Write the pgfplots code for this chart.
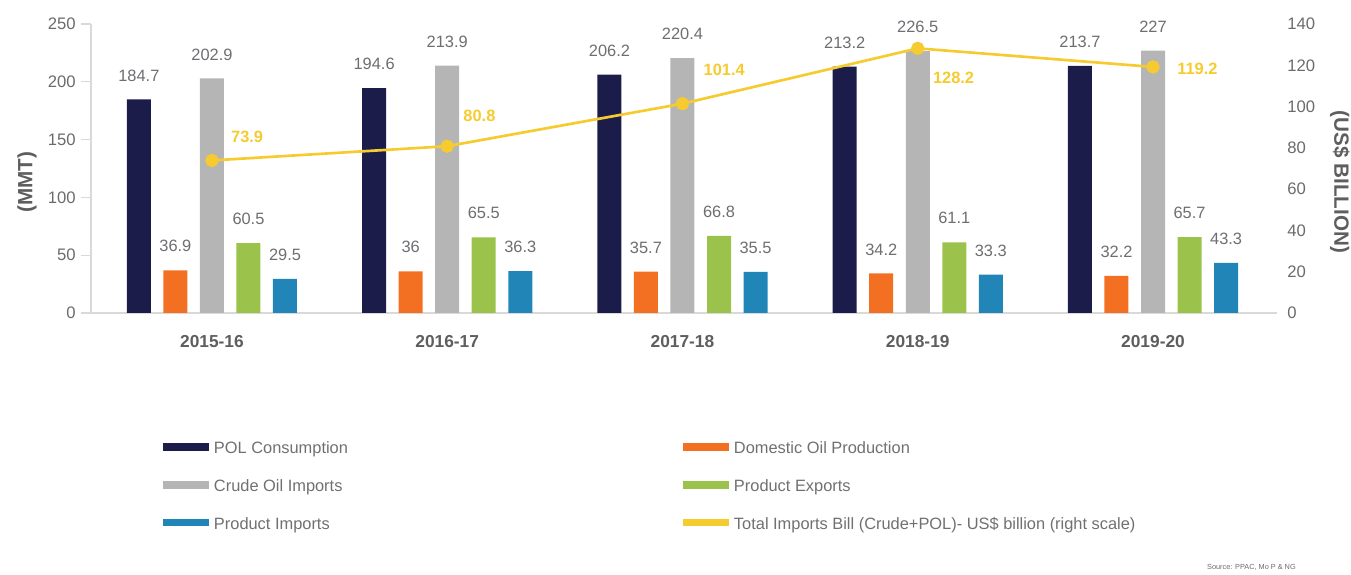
\documentclass[border=0pt]{standalone}
\usepackage{fontspec}
\setmainfont{Liberation Sans}
\usepackage{pgfplots}
\usepackage{pgfplotstable}
\pgfplotsset{compat=1.18}

\definecolor{polc}{HTML}{1B1C4A}
\definecolor{domc}{HTML}{F37022}
\definecolor{crudec}{HTML}{B5B5B5}
\definecolor{expc}{HTML}{9BC34B}
\definecolor{impc}{HTML}{2185B7}
\definecolor{goldc}{HTML}{F6CB2F}
\definecolor{tickc}{HTML}{6B6B6B}
\definecolor{valc}{HTML}{6D6E71}
\definecolor{labc}{HTML}{5E5E5E}
\definecolor{legc}{HTML}{707070}
\definecolor{axisc}{HTML}{D9D9D9}

\newcommand\ticfont{\fontsize{12.5pt}{14pt}\selectfont}
\newcommand\valfont{\fontsize{12.3pt}{14pt}\selectfont}
\newcommand\goldfont{\fontsize{12.3pt}{14pt}\selectfont\bfseries}
\newcommand\catfont{\fontsize{13pt}{15pt}\selectfont\bfseries}
\newcommand\axfont{\fontsize{15.5pt}{18pt}\selectfont\bfseries}
\newcommand\legfont{\fontsize{12.3pt}{14pt}\selectfont}

% x = group index, bars in MMT, bill in US$ billion
\pgfplotstableread{
x pol dom crude exp imp bill
0 184.7 36.9 202.9 60.5 29.5 73.9
1 194.6 36.0 213.9 65.5 36.3 80.8
2 206.2 35.7 220.4 66.8 35.5 101.4
3 213.2 34.2 226.5 61.1 33.3 128.2
4 213.7 32.2 227.0 65.7 43.3 119.2
}\oildata

\pgfplotsset{
  base/.style={scale only axis, width=889.5pt, height=216.75pt,
    at={(68.25pt,195.75pt)}, anchor=south west,
    xmin=-0.514, xmax=4.527,
    /pgf/number format/assume math mode=true},
  rectleg/.style={legend image code/.code={
    \path[draw=none,fill=none] (0pt,0pt) rectangle (38.25pt,1pt);
    \fill[##1,draw=none] (0pt,-0.6pt) rectangle (34.5pt,4.8pt);}},
  bars/.style={draw=none, rectleg},
}

\begin{document}
\begin{tikzpicture}
\useasboundingbox (0,0) rectangle (1013.25pt,430.5pt);
\begin{axis}[base,
  ybar=9.4pt, bar width=0.102,
  ymin=0, ymax=250, ytick={0,50,...,250},
  axis x line*=bottom, axis y line*=left,
  axis line style={draw=axisc, line width=1.2pt},
  y tick style={draw=axisc, line width=1pt},
  tick align=outside, major tick length=7.5pt,
  xtick={0,...,4},
  xticklabels={2015-16,2016-17,2017-18,2018-19,2019-20},
  x tick style={draw=none},
  xticklabel style={font=\catfont, text=labc, anchor=north, inner sep=0pt, yshift=-9pt},
  yticklabel style={font=\ticfont, text=tickc, anchor=east, inner sep=0pt, xshift=-3.75pt},
  ylabel={(MMT)},
  ylabel style={font=\axfont, text=labc, at={(axis description cs:-0.054,0.453)}, anchor=center},
  nodes near coords,
  every node near coord/.append style={font=\valfont, text=valc, anchor=south, inner sep=0pt, yshift=13.5pt},
  legend columns=2,
  legend cell align=left,
  legend style={draw=none, fill=none, font=\legfont, text=legc,
    at={(axis description cs:0.0607,-0.446)}, anchor=north west,
    inner sep=0pt, outer sep=0pt, row sep=16.4pt, column sep=0pt,
    nodes={inner sep=0pt, text height=9pt, text depth=3pt}},
]
\addplot[bars, fill=polc] table[x=x,y=pol]{\oildata};
\addlegendentry{\makebox[351.75pt][l]{POL Consumption}}
\addplot[bars, fill=domc] table[x=x,y=dom]{\oildata};
\addlegendentry{Domestic Oil Production}
\addplot[bars, fill=crudec] table[x=x,y=crude]{\oildata};
\addlegendentry{Crude Oil Imports}
\addplot[bars, fill=expc] table[x=x,y=exp]{\oildata};
\addlegendentry{Product Exports}
\addplot[bars, fill=impc] table[x=x,y=imp]{\oildata};
\addlegendentry{Product Imports}
\addlegendimage{rectleg, fill=goldc}
\addlegendentry{Total Imports Bill (Crude+POL)- US\$ billion (right scale)}
\end{axis}

\begin{axis}[base,
  ymin=0, ymax=140, ytick={0,20,...,140},
  axis x line=none, axis y line*=right,
  y axis line style={draw=none}, y tick style={draw=none},
  yticklabel style={font=\ticfont, text=tickc, anchor=west, inner sep=0pt, xshift=7.5pt},
  ylabel={(US\$ BILLION)},
  ylabel style={font=\axfont, text=labc, at={(axis description cs:1.0531,0.453)}, anchor=center, rotate=180},
  clip=false,
]
\addplot[goldc, line width=2pt, mark=*, mark size=4pt, mark options={fill=goldc, draw=goldc}]
  table[x=x,y=bill]{\oildata};
\begin{scope}[every node/.style={font=\goldfont, text=goldc, anchor=west, inner sep=0pt}]
\node[xshift=14.25pt, yshift=17.6pt] at (axis cs:0,73.9) {73.9};
\node[xshift=12pt, yshift=22.5pt] at (axis cs:1,80.8) {80.8};
\node[xshift=15.75pt, yshift=25.3pt] at (axis cs:2,101.4) {101.4};
\node[xshift=11.25pt, yshift=-22.2pt] at (axis cs:3,128.2) {128.2};
\node[xshift=18pt, yshift=-1.3pt] at (axis cs:4,119.2) {119.2};
\end{scope}
\end{axis}

\node[anchor=east, inner sep=0pt, font=\fontsize{5.5pt}{6pt}\selectfont, text=tickc]
  at (972pt,5.25pt) {Source: PPAC, Mo P \& NG};
\end{tikzpicture}
\end{document}
